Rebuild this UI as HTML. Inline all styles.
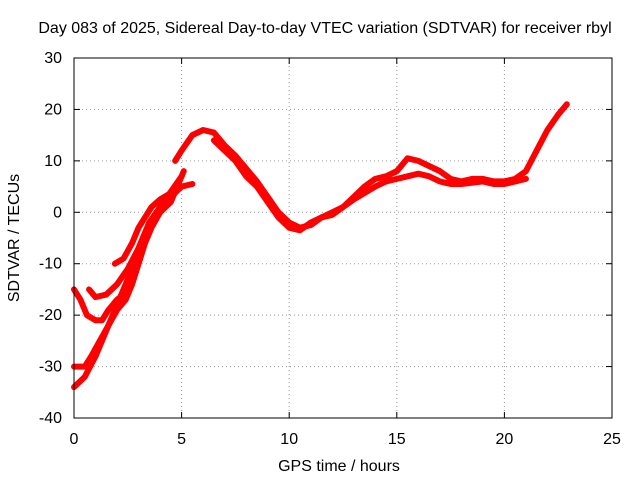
<!DOCTYPE html>
<html><head><meta charset="utf-8"><style>
body{margin:0;background:#fff;}
svg{display:block;font-family:"Liberation Sans",sans-serif;}
</style></head><body>
<svg id="c" width="640" height="480">
<text x="325" y="33" font-size="16" text-anchor="middle">Day 083 of 2025, Sidereal Day-to-day VTEC variation (SDTVAR) for receiver rbyl</text>
<text x="339" y="471" font-size="16" text-anchor="middle">GPS time / hours</text>
<text transform="translate(19,238) rotate(-90)" font-size="16" text-anchor="middle">SDTVAR / TECUs</text>
<g id="grid"></g><g id="ticks"></g><g id="series"></g>
<rect x="74" y="58" width="538" height="360" fill="none" stroke="#000" stroke-width="1"/>
</svg>
<script>
const xTicks=[0,5,10,15,20,25];
const yTicks=[-40,-30,-20,-10,0,10,20,30];
const trackA_x=[0,0.5,1,1.5,2,2.5,3,3.5,4,4.5,5,5.5];
const trackA_y=[-34,-32,-28,-23,-18,-13,-7,-2,1,3,5,5.5];
const trackB_x=[0,0.3,0.6,1,1.3,1.6,2,2.3,2.6,3,3.5,4,4.5,5];
const trackB_y=[-15,-17,-20,-21,-21,-19,-17,-16,-12,-7,-2,1,4,7];
const trackC_x=[0,0.5,0.8,1.2,1.6,2,2.4,2.7,3,3.3,3.6,4];
const trackC_y=[-30,-30,-28,-25,-22,-19,-17,-14,-10,-6,-3,0];
const trackD_x=[0.7,1,1.5,2,2.5,3,3.5,4,4.5,4.8,5.1];
const trackD_y=[-15,-16.5,-16,-14,-11,-7,-3,0,2,5,8];
const trackE_x=[1.9,2.3,2.7,3,3.3,3.6,4,4.4,4.8];
const trackE_y=[-10,-9,-6,-3,-1,1,2.5,3.5,4.5];
const main_x=[4.7,5,5.5,6,6.5,7,7.5,8,8.5,9,9.5,10,10.5,11,11.5,12,12.5,13,13.5,14,14.5,15,15.5,16,16.5,17,17.5,18,18.5,19,19.5,20,20.5,21,21.5,22,22.5,22.9];
const main_y=[10,12,15,16,15.5,13,11,8.5,6,3,0,-2,-3,-2.5,-1,0,1,3,5,6.5,7,8,10.5,10,9,8,6.5,6,6.5,6.5,6,6,6.5,8,12,16,19,21];
const alt_x=[6.5,7,7.5,8,8.5,9,9.5,10,10.5,11,11.5,12,13,14,14.5,15,15.5,16,16.5,17,17.5,18,19,19.5,20,20.5,21];
const alt_y=[14,12,10,7,5,2,-1,-3,-3.5,-2,-1,-0.5,2.5,5,6,6.5,7,7.5,7,6,5.5,5.5,6,5.5,5.5,6,6.5];
const sx=v=>74+v*538/25, sy=v=>418-(v+40)*360/70;
const NS="http://www.w3.org/2000/svg";
const g=document.getElementById('grid'),t=document.getElementById('ticks'),s=document.getElementById('series');
function mk(tag,attrs,parent){const e=document.createElementNS(NS,tag);for(const k in attrs)e.setAttribute(k,attrs[k]);parent.appendChild(e);return e;}
xTicks.forEach(v=>{const x=sx(v);
 if(v>0&&v<25){const l=mk('line',{x1:x,x2:x,y1:58,y2:418,stroke:'#999','stroke-dasharray':'1,3'},g);
 
 }
 mk('line',{x1:x,x2:x,y1:418,y2:412,stroke:'#000'},t);mk('line',{x1:x,x2:x,y1:58,y2:64,stroke:'#000'},t);
 const tx=mk('text',{x:x,y:444,'font-size':16,'text-anchor':'middle'},t);tx.textContent=v;
 
 });
yTicks.forEach(v=>{const y=sy(v);
 if(v>-40&&v<30){const l=mk('line',{x1:74,x2:612,y1:y,y2:y,stroke:'#999','stroke-dasharray':'1,3'},g);
 
 }
 mk('line',{x1:74,x2:80,y1:y,y2:y,stroke:'#000'},t);mk('line',{x1:612,x2:606,y1:y,y2:y,stroke:'#000'},t);
 const tx=mk('text',{x:62,y:y+5,'font-size':16,'text-anchor':'end'},t);tx.textContent=v;
 
 });
[[trackA_x,trackA_y],[trackB_x,trackB_y],[trackC_x,trackC_y],[trackD_x,trackD_y],[trackE_x,trackE_y],[main_x,main_y],[alt_x,alt_y]].forEach((tr,i)=>{
 const pts=tr[0].map((x,j)=>sx(x)+','+sy(tr[1][j])).join(' ');
 const p=mk('polyline',{points:pts,fill:'none',stroke:'#f00','stroke-width':6,'stroke-linejoin':'round','stroke-linecap':'round'},s);
 
 
});
</script>
</body></html>
